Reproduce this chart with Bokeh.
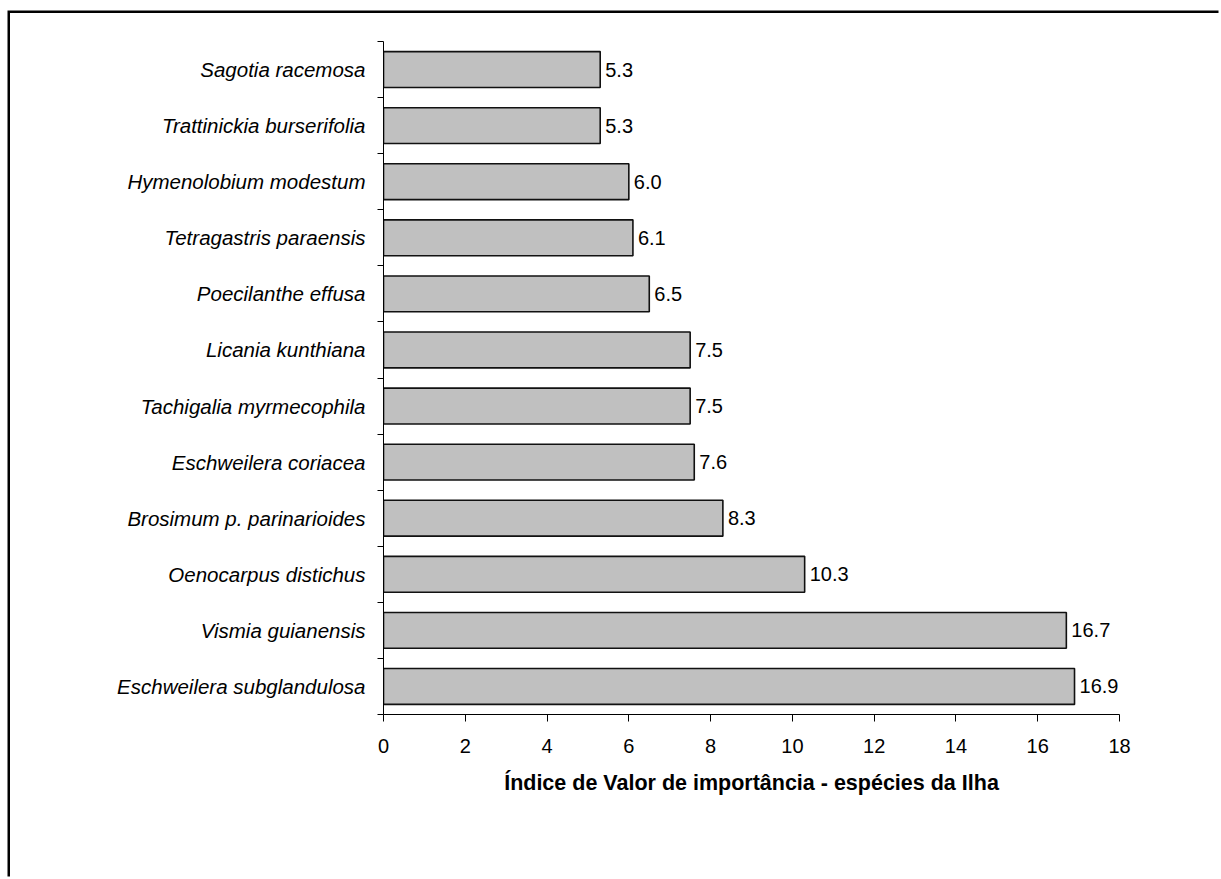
from bokeh.plotting import figure
from bokeh.models import Range1d, FixedTicker, ColumnDataSource
from bokeh.core.properties import value
from bokeh.embed import file_html
from bokeh.resources import INLINE

# Species listed from top to bottom of the chart
species = [
    "Sagotia racemosa",
    "Trattinickia burserifolia",
    "Hymenolobium modestum",
    "Tetragastris paraensis",
    "Poecilanthe effusa",
    "Licania kunthiana",
    "Tachigalia myrmecophila",
    "Eschweilera coriacea",
    "Brosimum p. parinarioides",
    "Oenocarpus distichus",
    "Vismia guianensis",
    "Eschweilera subglandulosa",
]
ivi = [5.3, 5.3, 6.0, 6.1, 6.5, 7.5, 7.5, 7.6, 8.3, 10.3, 16.7, 16.9]
x_ticks = [0, 2, 4, 6, 8, 10, 12, 14, 16, 18]
x_title = "Índice de Valor de importância - espécies da Ilha"

n = len(species)
ypos = [n - 1 - i + 0.5 for i in range(n)]
src = ColumnDataSource(dict(
    y=ypos,
    v=ivi,
    name=species,
    lbl=["{:.1f}".format(v) for v in ivi],
))

FONT = "Liberation Sans"

p = figure(
    width=1211, height=866,
    x_range=Range1d(0, 18), y_range=Range1d(0, n),
    output_backend="svg", toolbar_location=None,
    min_border_left=373, min_border_right=102,
    min_border_top=28, min_border_bottom=165,
)
p.outline_line_color = None
p.xgrid.visible = False
p.ygrid.visible = False
p.background_fill_color = "white"
p.border_fill_color = "white"

# chart-area frame along the top and left edges (an offset shadow of the plot box)
p.styles = {
    "margin-left": "9.5px", "margin-top": "12.5px",
    "box-shadow": "-2.5px -2.5px 0 0 black",
}

p.hbar(y="y", right="v", left=0, height=0.64, source=src,
       fill_color="#C0C0C0", line_color="#111111", line_width=1.6)

p.text(x="v", y="y", text="lbl", source=src, x_offset=5,
       text_baseline="middle", text_align="left",
       text_font=value(FONT), text_font_size="20px", text_color="black")

# x axis
xa = p.xaxis[0]
xa.ticker = FixedTicker(ticks=x_ticks)
xa.minor_tick_line_color = None
xa.major_tick_in = 0
xa.major_tick_out = 7
xa.major_label_standoff = 17
xa.major_label_text_font = FONT
xa.major_label_text_font_size = "20px"
xa.major_label_text_color = "black"
xa.axis_line_color = "black"
xa.major_tick_line_color = "black"
xa.axis_label = x_title
xa.axis_label_text_font = FONT
xa.axis_label_text_font_style = "bold"
xa.axis_label_text_font_size = "21.5px"
xa.axis_label_text_color = "black"
xa.axis_label_standoff = 15

# y axis: species names centred on each bar, ticks at category boundaries
ya = p.yaxis[0]
ya.ticker = FixedTicker(ticks=ypos, minor_ticks=list(range(n + 1)))
ya.major_label_overrides = {y: s for y, s in zip(ypos, species)}
ya.major_tick_in = 0
ya.major_tick_out = 0
ya.major_tick_line_color = None
ya.minor_tick_in = 0
ya.minor_tick_out = 6
ya.minor_tick_line_color = "black"
ya.axis_line_color = "black"
ya.major_label_standoff = 12
ya.major_label_text_font = FONT
ya.major_label_text_font_style = "italic"
ya.major_label_text_font_size = "20.5px"
ya.major_label_text_color = "black"

open("out.html", "w").write(file_html(p, INLINE))
